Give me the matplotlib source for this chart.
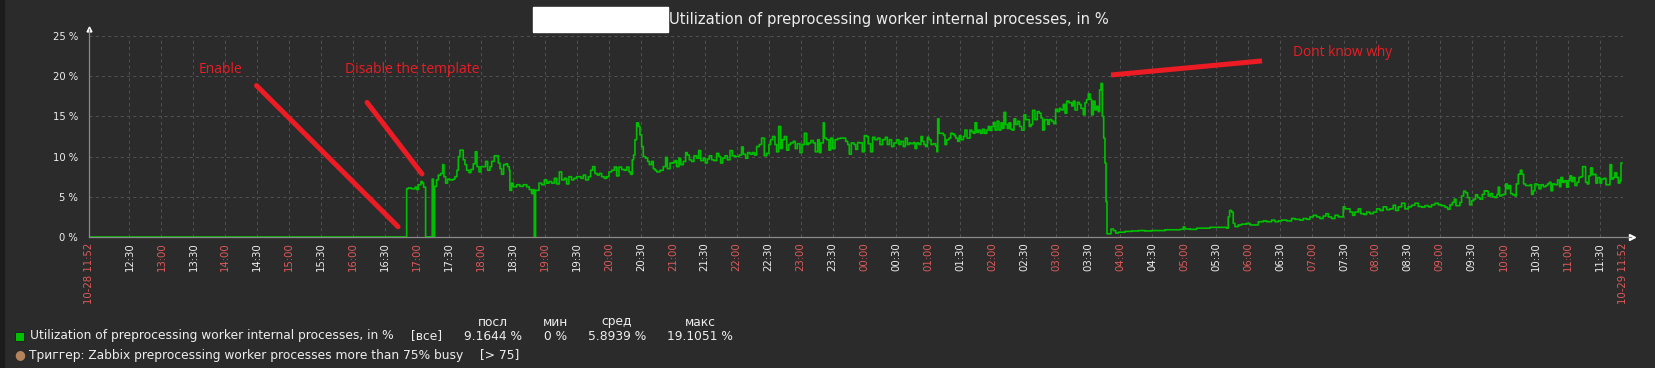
import matplotlib.pyplot as plt
from matplotlib.patches import Rectangle

# minutes since 10-28 11:52 and utilization in %
minutes = [
    0, 298.2, 299.7, 302.8, 306.0, 307.5, 309.1, 311.6, 312.9, 314.1, 316.0, 322.2, 323.3, 324.4,
    326.3, 327.9, 330.1, 332.0, 333.2, 334.8, 336.6, 338.8, 342.0, 343.5, 345.4, 346.7, 348.2,
    349.8, 351.3, 352.9, 354.5, 356.7, 358.5, 360.7, 362.6, 364.2, 366.1, 367.9, 370.1, 372.3,
    374.2, 376.4, 378.0, 380.4, 382.6, 384.2, 385.8, 387.3, 389.2, 391.4, 393.0, 394.5, 395.1,
    396.7, 398.3, 401.4, 404.5, 407.7, 410.8, 413.3, 415.5, 417.1, 418.0, 419.2, 422.4, 424.9,
    427.4, 429.6, 431.8, 434.3, 436.8, 439.0, 441.5, 443.7, 446.2, 448.3, 450.5, 453.0, 455.2,
    457.7, 459.9, 461.8, 464.0, 466.2, 468.7, 470.9, 472.8, 474.9, 477.1, 479.0, 481.2, 483.7,
    485.9, 488.1, 490.6, 493.1, 495.3, 497.5, 500.0, 502.5, 504.7, 506.9, 508.4, 510.0, 511.2,
    512.5, 514.1, 515.6, 517.2, 518.8, 520.3, 522.5, 524.4, 526.0, 528.1, 529.7, 531.3,
    532.9, 536.0, 539.1, 541.3, 542.9, 545.4, 547.9, 550.1, 551.6, 553.8, 555.4, 557.9, 560.1,
    561.6, 563.5, 565.7, 567.9, 570.4, 572.3, 574.2, 576.7, 578.5, 580.4, 582.3, 584.5, 586.7,
    589.2, 591.1, 592.9, 594.8, 597.0, 599.2, 601.7, 603.9, 606.4, 608.6, 610.5, 612.6, 614.2,
    616.4, 618.3, 620.5, 622.7, 624.5, 626.7, 629.2, 631.4, 633.9, 636.1, 638.3, 639.9, 641.7,
    643.9, 645.5, 647.4, 649.3, 650.8, 652.7, 654.9, 656.8, 658.6, 661.1, 663.0, 664.9, 667.4,
    669.3, 671.5, 673.7, 675.5, 677.7, 679.9, 681.8, 684.0, 685.6, 687.1, 689.3, 690.2, 692.4,
    694.6, 696.2, 698.1, 700.3, 702.8, 705.6, 708.1, 710.3, 712.2, 713.7, 715.6, 718.1, 719.7,
    721.5, 723.7, 725.9, 727.8, 730.0, 731.5, 733.7, 735.6, 737.8, 740.3, 742.5, 745.0, 747.5,
    749.4, 751.3, 753.4, 755.6, 758.1, 760.3, 762.2, 764.4, 766.3, 768.2, 770.0,
    771.6, 773.8, 775.4, 777.0, 779.1, 781.0, 782.3, 783.8, 785.4, 787.0, 788.5, 790.4, 792.6,
    794.8, 796.0, 796.7, 797.9, 799.8, 802.0, 803.5, 805.1, 807.3, 808.9, 810.7, 812.3, 813.6,
    815.4, 817.0, 818.6, 820.8, 822.3, 824.2, 825.5, 827.0, 828.6, 830.1, 831.7, 833.3, 834.8,
    836.7, 838.6, 840.5, 842.7, 844.2, 845.8, 847.4, 849.2, 850.5, 852.4, 854.2, 856.1, 857.4,
    858.9, 860.5, 862.1, 863.6, 865.2, 866.8, 868.3, 869.9, 871.8, 873.6, 875.5, 877.7, 879.3,
    881.1, 882.7, 884.3, 885.8, 888.0, 890.2, 892.1, 893.7, 895.2, 896.8, 898.4, 899.9, 901.5,
    903.7, 905.6, 907.4, 909.0, 910.9, 912.4, 914.6, 916.2, 917.8, 919.9, 922.5, 924.0, 925.6,
    927.8, 929.6, 931.2, 933.4, 935.0, 936.5, 938.1, 939.7, 941.2, 942.8, 944.4, 945.9, 947.5,
    948.7, 950.0, 951.2, 952.5, 953.7, 954.7, 955.6, 957.5, 959.4, 961.6, 963.8, 966.3, 969.4,
    972.5, 978.8, 985.0, 991.3, 997.5, 1003.8, 1010.1,
    1011.6, 1017.8, 1024.1, 1027.2, 1028.8, 1033.5, 1039.7, 1046.0, 1052.2, 1058.5, 1064.8,
    1067.9, 1069.4, 1070.7, 1072.6, 1074.1, 1075.7, 1078.8, 1082.0, 1086.7, 1089.8, 1092.9,
    1097.6, 1102.3, 1105.4, 1110.1, 1113.3, 1116.4, 1119.5, 1124.2, 1128.9, 1132.0, 1136.7,
    1139.8, 1143.0, 1146.1, 1149.2, 1152.4, 1155.5, 1158.6, 1161.1, 1163.3, 1166.4, 1169.6,
    1172.7, 1175.8, 1177.4, 1179.0, 1182.1, 1183.7, 1186.2, 1188.3, 1191.5, 1193.7, 1196.8,
    1199.3, 1202.4, 1205.6, 1208.7, 1211.8, 1214.9, 1218.1, 1221.2, 1224.3, 1226.5, 1229.0,
    1232.2, 1235.3, 1238.4, 1241.5, 1244.7, 1247.8,
    1251.0, 1254.1, 1257.2, 1260.3, 1263.5, 1266.6, 1269.7, 1272.9, 1275.4, 1277.6, 1279.7,
    1281.6, 1283.2, 1285.4, 1286.9, 1288.5, 1290.4, 1292.3, 1294.1, 1296.0, 1297.9, 1299.8,
    1301.6, 1303.5, 1305.7, 1307.9, 1309.8, 1312.0, 1313.5, 1315.4, 1317.3, 1319.8, 1321.7,
    1322.9, 1324.2, 1326.1, 1327.9, 1329.8, 1331.4, 1332.9, 1334.5, 1336.4, 1338.6, 1339.8,
    1341.7, 1343.6, 1345.1, 1346.7, 1348.6, 1351.1, 1353.0, 1354.2, 1355.8, 1357.3, 1359.2,
    1361.1, 1363.0, 1365.2, 1367.4, 1369.2, 1370.8, 1372.4, 1373.9, 1376.1, 1378.6, 1380.5,
    1381.7, 1383.3, 1384.9, 1387.1, 1388.6, 1390.2, 1391.8, 1393.3, 1394.9, 1396.8, 1398.6,
    1400.2, 1402.1, 1403.7, 1404.9, 1406.5, 1408.0, 1409.6, 1411.2, 1413.0, 1414.6, 1416.2,
    1418.4, 1419.9, 1422.1, 1424.0, 1426.2, 1427.8, 1429.3, 1430.9, 1432.4, 1434.0, 1435.6,
    1437.1, 1438.1, 1439.0,
]
util_pct = [
    0, 6.0, 6.1, 6.0, 6.2, 5.9, 6.5, 6.9, 6.7, 6.2, 0, 7.2, 0, 6.3,
    7.1, 7.7, 7.9, 9.0, 7.5, 6.7, 7.2, 7.1, 7.2, 7.5, 8.3, 10.0, 10.8,
    10.8, 9.6, 9.0, 8.3, 8.0, 8.4, 9.1, 10.6, 8.75, 8.1, 8.75, 8.75, 9.4,
    8.3, 8.75, 9.4, 10.1, 10.1, 9.2, 8.5, 7.8, 9.0, 9.1, 8.75, 8.3, 5.8,
    6.7, 6.25, 6.5, 6.3, 6.5, 6.25, 5.9, 5.4, 5.9, 0, 5.8, 6.7, 6.5,
    7.1, 6.7, 6.9, 6.7, 7.3, 6.6, 8.1, 7.1, 7.3, 6.6, 7.5, 7.1, 7.3,
    7.5, 7.5, 7.3, 7.7, 7.1, 7.5, 8.3, 8.75, 7.9, 7.7, 7.9, 7.5, 7.3,
    7.5, 8.1, 8.3, 8.7, 7.6, 8.7, 8.4, 8.3, 8.7, 8.1, 7.8, 9.6, 10.2,
    12.1, 14.2, 13.75, 12.7, 11.25, 10.0, 9.8, 9.4, 9.0, 9.4, 8.5, 8.3,
    8.1, 8.3, 8.75, 9.9, 8.5, 9.2, 9.25, 9.5, 8.75, 9.8, 9.0, 9.4, 10.5,
    10.2, 9.6, 9.4, 10.1, 9.8, 10.75, 9.5, 9.8, 9.2, 9.7, 10.1, 9.6, 9.5,
    10.4, 10.0, 9.2, 9.8, 10.1, 9.6, 10.75, 10.1, 10.0, 10.0, 10.2, 11.2, 10.3,
    9.8, 10.5, 10.3, 10.5, 10.2, 11.25, 11.5, 12.3, 10.1, 10.4, 11.5, 12.1, 12.5,
    11.5, 10.6, 13.75, 11.0, 12.1, 12.5, 10.8, 11.5, 11.7, 11.9, 11.0, 11.6, 10.5,
    11.5, 12.9, 11.5, 11.7, 12.0, 11.7, 10.6, 12.1, 10.5, 11.7, 14.2, 12.3, 12.1,
    10.8, 12.3, 11.0, 12.1, 12.25, 12.3, 12.3, 11.9, 11.5, 10.3, 11.7, 11.5, 10.9,
    11.75, 11.7, 10.6, 12.6, 12.5, 11.6, 10.6, 12.4, 12.1, 12.3, 11.5, 12.1, 12.4,
    11.5, 12.1, 11.25, 11.7, 12.1, 11.5, 11.9, 11.25, 12.3, 11.5, 11.7,
    11.6, 11.75, 11.0, 11.7, 11.5, 12.5, 11.9, 11.5, 11.25, 12.4, 12.1, 11.5, 11.6,
    11.3, 10.6, 14.7, 12.9, 12.9, 12.7, 11.5, 12.1, 12.3, 12.9, 12.8, 12.6, 12.3,
    11.9, 12.6, 12.1, 12.5, 13.3, 12.3, 12.3, 13.3, 13.1, 12.9, 14.2, 13.0, 13.3,
    12.9, 13.4, 12.9, 13.3, 13.75, 13.25, 13.75, 14.25, 13.3, 14.4, 13.3, 14.2, 13.5,
    15.5, 14.0, 13.5, 14.2, 13.4, 13.3, 14.7, 14.0, 14.4, 13.75, 13.3, 15.2, 14.6,
    14.6, 13.75, 14.0, 15.75, 14.6, 15.6, 15.4, 14.8, 13.3, 14.6, 14.6, 14.0, 14.6,
    14.4, 14.1, 15.9, 15.6, 16.0, 15.8, 16.5, 15.4, 16.9, 16.7, 16.3, 16.9, 15.8,
    16.75, 16.5, 16.0, 15.2, 16.7, 17.1, 17.8, 17.1, 15.2, 16.9, 15.8, 16.25, 15.6,
    18.3, 19.1, 15.0, 12.3, 9.2, 4.4, 0.4, 0.4, 1.0, 0.8, 0.5, 0.6, 0.6,
    0.7, 0.75, 0.8, 0.75, 0.8, 0.8, 0.9,
    0.9, 0.9, 0.95, 1.25, 1.0, 0.95, 1.1, 1.1, 1.2, 1.2, 1.2,
    1.1, 2.5, 3.3, 3.1, 1.7, 1.3, 1.5, 1.6, 1.7, 1.5, 1.5,
    1.9, 2.0, 1.9, 2.1, 1.9, 2.0, 2.1, 2.0, 2.3, 2.2, 2.1,
    2.3, 2.2, 2.5, 2.7, 2.5, 2.3, 2.6, 2.9, 2.5, 2.3, 2.7,
    2.5, 2.5, 3.75, 3.5, 3.5, 3.1, 2.7, 3.1, 3.5, 2.9, 2.8,
    3.1, 2.9, 3.1, 3.5, 3.3, 3.75, 3.4, 3.5, 3.95, 3.3, 3.75,
    4.2, 3.5, 3.75, 3.95, 4.2, 3.8,
    3.7, 3.9, 3.75, 4.0, 4.2, 4.0, 3.9, 3.7, 3.45, 4.0, 4.3,
    4.7, 3.9, 3.9, 4.3, 5.1, 5.7, 5.5, 4.9, 4.0, 4.5, 4.7,
    5.25, 4.9, 4.7, 5.3, 5.75, 5.7, 5.1, 5.4, 5.0, 4.9, 5.3,
    6.2, 5.1, 5.25, 5.3, 6.6, 6.0, 6.4, 5.4, 5.25, 5.1, 6.6,
    7.8, 8.3, 7.8, 6.6, 6.4, 6.4, 6.5, 5.3, 5.75, 6.6, 6.5,
    6.0, 6.5, 6.25, 6.4, 6.6, 6.8, 5.75, 6.6, 6.5, 7.1, 6.25,
    7.4, 6.8, 7.0, 6.2, 7.0, 7.6, 6.9, 7.4, 6.4, 6.8, 7.4,
    7.5, 8.75, 8.75, 6.8, 6.6, 7.6, 8.6, 7.75, 7.8, 6.7, 7.4,
    6.7, 7.2, 7.3, 6.5, 6.5, 9.0, 7.2, 7.4, 8.0, 7.4, 6.7,
    7.0, 9.2, 9.2,
]

x_tick_labels = ["10-28 11:52", "12:30", "13:00", "13:30", "14:00", "14:30", "15:00", "15:30",
                 "16:00", "16:30", "17:00", "17:30", "18:00", "18:30", "19:00", "19:30",
                 "20:00", "20:30", "21:00", "21:30", "22:00", "22:30", "23:00", "23:30",
                 "00:00", "00:30", "01:00", "01:30", "02:00", "02:30", "03:00", "03:30",
                 "04:00", "04:30", "05:00", "05:30", "06:00", "06:30", "07:00", "07:30",
                 "08:00", "08:30", "09:00", "09:30", "10:00", "10:30", "11:00", "11:30",
                 "10-29 11:52"]
y_ticks = [0, 5, 10, 15, 20, 25]

title = "Utilization of preprocessing worker internal processes, in %"
legend_item = "Utilization of preprocessing worker internal processes, in %"
legend_trigger = "Триггер: Zabbix preprocessing worker processes more than 75% busy"
stat_headers = ["посл", "мин", "сред", "макс"]
stat_values = ["9.1644 %", "0 %", "5.8939 %", "19.1051 %"]

BG = "#2b2b2b"
GRID = "#505050"
AXIS = "#8a8a8a"
TXT = "#eeeeee"
HOUR_RED = "#e05a5a"
PAINT_RED = "#ed1c24"
GREEN = "#00c000"
W, H = 1655, 368


def tick_minute(label):
    hhmm = label.split(" ")[-1]
    h, m = map(int, hhmm.split(":"))
    t = h * 60 + m - (11 * 60 + 52)
    if t < 0 or label.startswith("10-29"):
        t += 1440
    return t


tick_pos = [tick_minute(s) for s in x_tick_labels]

fig = plt.figure(figsize=(W / 100, H / 100), dpi=100, facecolor=BG)
fig.patches.append(Rectangle((0, 0), 4 / W, 1, transform=fig.transFigure, color="#1c1c1c"))

ax = fig.add_axes([89 / W, 1 - 237 / H, (1623 - 89) / W, (237 - 36) / H])
ax.set_facecolor(BG)
ax.set_xlim(0, 1440)
ax.set_ylim(0, 25)
for s in ax.spines.values():
    s.set_visible(False)

# grid
for v in y_ticks[1:]:
    ax.axhline(v, color=GRID, lw=0.75, ls=(0, (3, 3)), zorder=1)
for m in tick_pos[1:]:
    ax.axvline(m, color=GRID, lw=0.75, ls=(0, (3, 3)), zorder=1)

ax.plot(minutes, util_pct, drawstyle="steps-post", color=GREEN, lw=1.2, zorder=3)

# axis lines with arrows
ax.plot([0, 0], [0, 1.035], transform=ax.transAxes, color=AXIS, lw=0.9, clip_on=False, zorder=4)
ax.plot([0, 1.005], [0, 0], transform=ax.transAxes, color=AXIS, lw=0.9, clip_on=False, zorder=4)
ax.plot(0, 1.035, marker="^", ms=3.5, color="white", transform=ax.transAxes, clip_on=False)
ax.plot(1.006, 0, marker=">", ms=4, color="white", transform=ax.transAxes, clip_on=False)

ax.set_yticks(y_ticks)
ax.set_yticklabels([f"{v} %" for v in y_ticks], color=TXT, fontsize=7.2)
ax.set_xticks(tick_pos)
ax.set_xticklabels(x_tick_labels, rotation=90, fontsize=7.3, va="top")
for lbl, txt in zip(ax.get_xticklabels(), x_tick_labels):
    lbl.set_color(HOUR_RED if txt.endswith(":00") or "-" in txt else TXT)
ax.tick_params(axis="both", length=0)
ax.tick_params(axis="y", pad=8)
ax.tick_params(axis="x", pad=4)

# hand-drawn annotations
ax.plot([157.2, 290.1], [18.84, 1.28], color=PAINT_RED, lw=3.6, solid_capstyle="round", clip_on=False, zorder=5)
ax.plot([261.0, 312.6], [16.74, 7.84], color=PAINT_RED, lw=3.6, solid_capstyle="round", clip_on=False, zorder=5)
ax.plot([959.4, 1101.1], [20.15, 21.9], color=PAINT_RED, lw=3.6, solid_capstyle="butt", clip_on=False, zorder=5)
ax.text(123, 20.8, "Enable", color=PAINT_RED, ha="center", va="center", family="Open Sans", fontsize=10)
ax.text(303.2, 20.83, "Disable the template", color=PAINT_RED, ha="center", va="center", family="Open Sans", fontsize=10)
ax.text(1177, 23.0, "Dont know why", color=PAINT_RED, ha="center", va="center", family="Open Sans", fontsize=9.9)

# title with redacted host box
fig.patches.append(Rectangle((533 / W, 1 - 32 / H), 135 / W, 25 / H, transform=fig.transFigure, color="white"))
fig.text(669 / W, 1 - 19.5 / H, title, color=TXT, fontsize=10.6, ha="left", va="center")

# legend
fs = 8.8
fig.patches.append(Rectangle((15 / W, 1 - 340.5 / H), 9 / W, 9 / H, transform=fig.transFigure,
                             facecolor=GREEN, edgecolor="#1a1a1a", lw=0.6))
fig.text(30 / W, 1 - 336 / H, legend_item, color=TXT, fontsize=fs, ha="left", va="center")
fig.text(411 / W, 1 - 336 / H, "[все]", color=TXT, fontsize=fs, ha="left", va="center")
for hx, head, val in zip([493, 556, 617, 700], stat_headers, stat_values):
    fig.text(hx / W, 1 - 322 / H, head, color=TXT, fontsize=fs, ha="center", va="center")
    fig.text(hx / W, 1 - 336 / H, val, color=TXT, fontsize=fs, ha="center", va="center")

fig.text(19.6 / W, 1 - 355 / H, "●", color="#b5835a", fontsize=9, ha="center", va="center")
fig.text(28.6 / W, 1 - 355 / H, legend_trigger, color=TXT, fontsize=fs, ha="left", va="center")
fig.text(480 / W, 1 - 355 / H, "[> 75]", color=TXT, fontsize=fs, ha="left", va="center")

fig.savefig("out.png", dpi=100, facecolor=BG)
